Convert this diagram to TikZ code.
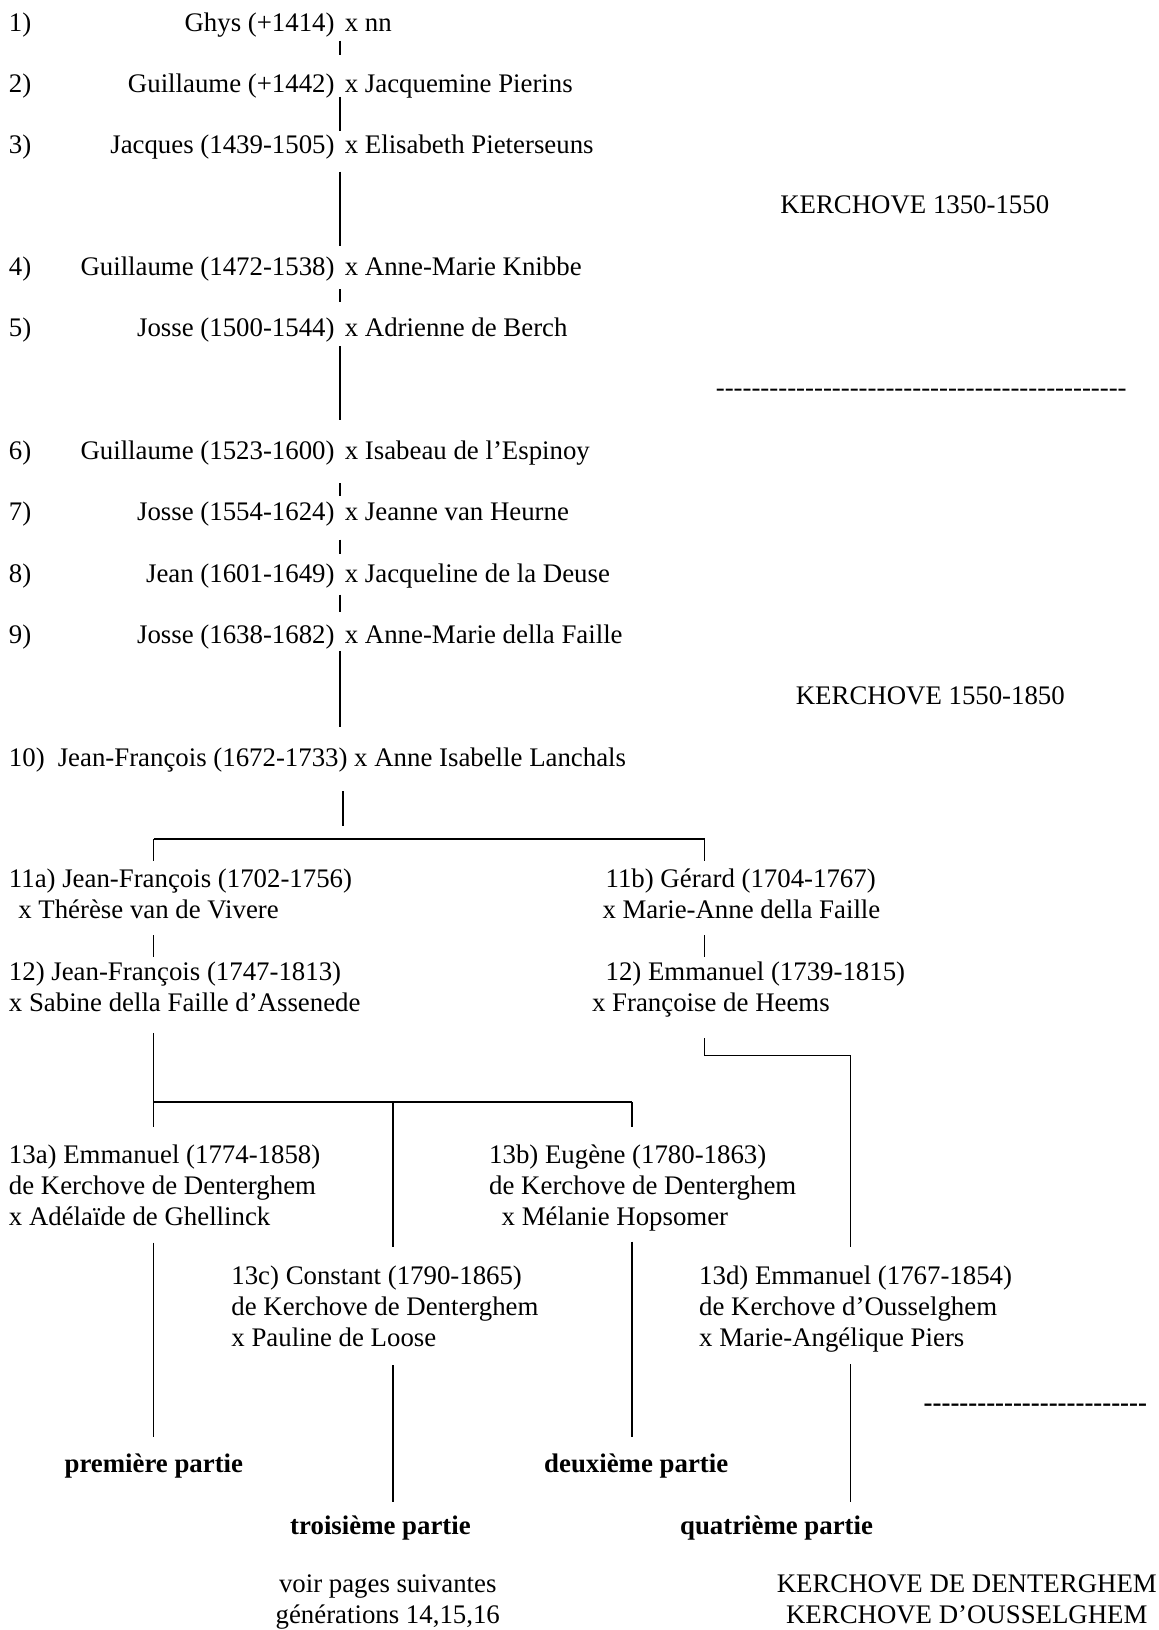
\documentclass[tikz,border=0pt]{standalone}
\usepackage{fontspec}
\setmainfont{Liberation Serif}
\usetikzlibrary{positioning}

\newcommand{\gensize}{\fontsize{25.8}{29.7}\selectfont}
\newcommand{\dashrun}[1]{\foreach \k in {1,...,#1}{-\kern0pt}}

\tikzstyle{gen} = [inner sep=0pt]
\tikzstyle{num} = [inner sep=0pt, anchor=base west]
\tikzstyle{entry} = [inner sep=0pt, align=left, anchor=base west]
\tikzstyle{part} = [inner sep=0pt, anchor=base, font=\gensize\bfseries]
\tikzstyle{note} = [inner sep=0pt, align=center, anchor=base]

\begin{document}
\begin{tikzpicture}[x=1pt, y=-1pt, font=\gensize, line width=1.2pt]
\useasboundingbox (0,0) rectangle (1114,1568);

% generations 1 to 10
\node[gen] (g1) at (327,30) {};
\node[num] (n1) at (8,30) {1)};
\node[gen, base left=3.5pt of g1] (h1) {Ghys (+1414)};
\node[gen, base right=3pt of g1] (w1) {x nn};

\node[gen] (g2) at (327,89) {};
\node[num] (n2) at (8,89) {2)};
\node[gen, base left=3.5pt of g2] (h2) {Guillaume (+1442)};
\node[gen, base right=3pt of g2] (w2) {x Jacquemine Pierins};

\node[gen] (g3) at (327,148) {};
\node[num] (n3) at (8,148) {3)};
\node[gen, base left=3.5pt of g3] (h3) {Jacques (1439-1505)};
\node[gen, base right=3pt of g3] (w3) {x Elisabeth Pieterseuns};

\node[gen] (g4) at (327,265) {};
\node[num] (n4) at (8,265) {4)};
\node[gen, base left=3.5pt of g4] (h4) {Guillaume (1472-1538)};
\node[gen, base right=3pt of g4] (w4) {x Anne-Marie Knibbe};

\node[gen] (g5) at (327,324) {};
\node[num] (n5) at (8,324) {5)};
\node[gen, base left=3.5pt of g5] (h5) {Josse (1500-1544)};
\node[gen, base right=3pt of g5] (w5) {x Adrienne de Berch};

\node[gen] (g6) at (327,442) {};
\node[num] (n6) at (8,442) {6)};
\node[gen, base left=3.5pt of g6] (h6) {Guillaume (1523-1600)};
\node[gen, base right=3pt of g6] (w6) {x Isabeau de l’Espinoy};

\node[gen] (g7) at (327,501) {};
\node[num] (n7) at (8,501) {7)};
\node[gen, base left=3.5pt of g7] (h7) {Josse (1554-1624)};
\node[gen, base right=3pt of g7] (w7) {x Jeanne van Heurne};

\node[gen] (g8) at (327,560) {};
\node[num] (n8) at (8,560) {8)};
\node[gen, base left=3.5pt of g8] (h8) {Jean (1601-1649)};
\node[gen, base right=3pt of g8] (w8) {x Jacqueline de la Deuse};

\node[gen] (g9) at (327,619) {};
\node[num] (n9) at (8,619) {9)};
\node[gen, base left=3.5pt of g9] (h9) {Josse (1638-1682)};
\node[gen, base right=3pt of g9] (w9) {x Anne-Marie della Faille};

\node[gen] (g10) at (327,737) {};
\node[gen] (b10) at (330,737) {};
\node[num] (n10) at (8,737) {10)};
\node[num] (h10) at (55,737) {Jean-François (1672-1733) x Anne Isabelle Lanchals};

\draw[shorten <=8pt, shorten >=35pt] (g1) -- (g2);
\draw[shorten <=3pt, shorten >=21pt] (g2) -- (g3);
\draw[shorten <=16pt, shorten >=27pt] (g3) -- (g4);
\draw[shorten <=12pt, shorten >=32pt] (g4) -- (g5);
\draw[shorten <=8pt, shorten >=37pt] (g5) -- (g6);
\draw[shorten <=22pt, shorten >=23pt] (g6) -- (g7);
\draw[shorten <=17pt, shorten >=26pt] (g7) -- (g8);
\draw[shorten <=11pt, shorten >=29pt] (g8) -- (g9);
\draw[shorten <=6pt, shorten >=37pt] (g9) -- (g10);

% periods
\node[num] (t1) at (750,205) {KERCHOVE 1350-1550};
\node[num] (d1) at (688,381) {\dashrun{46}};
\node[num] (t2) at (765,678) {KERCHOVE 1550-1850};

% generations 11 to 13 (base = last line)
\node[entry] (c11a) at (8,883.7) {11a) Jean-François (1702-1756)\\\hspace*{9pt}x Thérèse van de Vivere};
\node[entry] (c11b) at (569,883.7) {\hspace*{13pt}11b) Gérard (1704-1767)\\\hspace*{10pt}x Marie-Anne della Faille};
\node[entry] (c12a) at (8,972.7) {12) Jean-François (1747-1813)\\x Sabine della Faille d’Assenede};
\node[entry] (c12b) at (569,972.7) {\hspace*{13pt}12) Emmanuel (1739-1815)\\x Françoise de Heems};
\node[entry] (c13a) at (8,1178.4) {13a) Emmanuel (1774-1858)\\de Kerchove de Denterghem\\x Adélaïde de Ghellinck};
\node[entry] (c13b) at (470,1178.4) {13b) Eugène (1780-1863)\\de Kerchove de Denterghem\\\hspace*{12pt}x Mélanie Hopsomer};
\node[entry] (c13c) at (222,1295.4) {13c) Constant (1790-1865)\\de Kerchove de Denterghem\\x Pauline de Loose};
\node[entry] (c13d) at (672,1295.4) {13d) Emmanuel (1767-1854)\\de Kerchove d’Ousselghem\\x Marie-Angélique Piers};

\node[part] (p1) at (148,1416) {première partie};
\node[part] (p2) at (612,1416) {deuxième partie};
\node[part] (p3) at (366,1476) {troisième partie};
\node[part] (p4) at (747,1476) {quatrième partie};

\node[note] (v1) at (373,1562) {voir pages suivantes\\générations 14,15,16};
\node[note] (k1) at (930,1562) {KERCHOVE DE DENTERGHEM\\KERCHOVE D’OUSSELGHEM};
\node[num, font=\gensize\bfseries] (d2) at (888,1358) {\dashrun{25}};

\coordinate (f11l) at (148,807);
\coordinate (f11r) at (678,807);
\coordinate (f13l) at (148,1060);
\coordinate (f13m) at (378,1060);
\coordinate (f13r) at (608,1060);
\coordinate (k13d) at (818,1015);

\draw[shorten <=23pt, shorten >=12pt] (b10) -- (b10 |- f11l);
\draw (f11l) -- (f11r);
\draw[shorten >=7pt] (f11l) -- (f11l |- c11a.north);
\draw[shorten >=7pt] (f11r) -- (f11r |- c11b.north);
\draw[shorten <=15pt, shorten >=4pt] (c11a.south -| f11l) -- (c12a.north -| f11l);
\draw[shorten <=15pt, shorten >=4pt] (c11b.south -| f11r) -- (c12b.north -| f11r);

\draw[shorten <=20pt] (c12a.south -| f13l) -- (f13l);
\draw (f13l) -- (f13r);
\draw[shorten >=16pt] (f13l) -- (f13l |- c13a.north);
\draw[shorten >=16pt] (f13r) -- (f13r |- c13b.north);
\draw[shorten >=18pt] (f13m) -- (f13m |- c13c.north);
\draw[shorten <=20pt, shorten >=18pt] (c12b.south -| f11r) |- (k13d) -- (k13d |- c13d.north);

\draw[shorten <=16pt, shorten >=15pt] (c13a.south -| f13l) -- (p1.north -| f13l);
\draw[shorten <=10pt, shorten >=15pt] (c13b.south -| f13r) -- (p2.north -| f13r);
\draw[shorten <=17pt, shorten >=13pt] (c13c.south -| f13m) -- (p3.north -| f13m);
\draw[shorten <=11pt, shorten >=13pt] (c13d.south -| k13d) -- (p4.north -| k13d);
\end{tikzpicture}
\end{document}
